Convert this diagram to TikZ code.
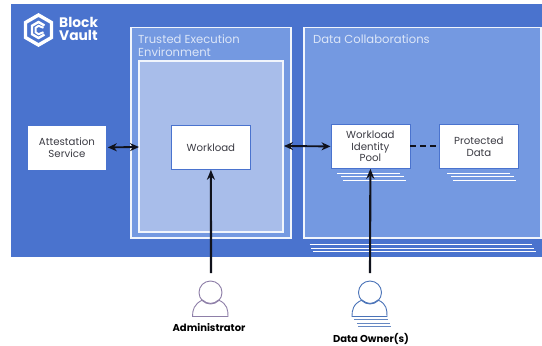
\documentclass[tikz,border=0pt]{standalone}
\usepackage{fontspec}
\setmainfont{Poppins}
\usetikzlibrary{arrows.meta}
\definecolor{bgblue}{HTML}{4A73CE}
\definecolor{midblue}{HTML}{7499E1}
\definecolor{lightblue}{HTML}{A8BDEA}
\definecolor{paleline}{HTML}{DCE6F8}
\definecolor{txt}{HTML}{3C3C44}
\definecolor{linkc}{HTML}{10121C}
\definecolor{adminc}{HTML}{8E7FA8}
\definecolor{ownerc}{HTML}{4A73B8}
\tikzset{
  x=1pt,y=-1pt,
  panel/.style={draw=white!90!midblue,line width=1.3pt,fill=midblue},
  wbox/.style={draw=bgblue,line width=0.8pt,fill=white,text=txt,font=\fontsize{10.2}{11.8}\selectfont,align=center,anchor=north west,inner sep=0pt},
  link/.style={draw=linkc,line width=1.9pt,{Stealth[length=9pt,width=8pt]}-{Stealth[length=9pt,width=8pt]}},
  uplink/.style={draw=linkc,line width=2.1pt,-{Stealth[length=10pt,width=8pt]}},
  stripes/.style={draw=white,line width=1pt},
  paneltitle/.style={text=paleline,font=\fontsize{11.6}{13.8}\selectfont,anchor=north west,inner sep=0pt,align=left},
  usertitle/.style={text=black,font=\bfseries\fontsize{10}{12}\selectfont,inner sep=0pt}
}
\begin{document}
\begin{tikzpicture}
\useasboundingbox (0,0) rectangle (542,346);
\fill[white] (0,0) rectangle (542,346);
\fill[bgblue] (11,4) rectangle (542,257);
% logo
\draw[white,line width=3.4pt,line join=miter] (38.5,15) -- (51.5,22.5) -- (51.5,37.5) -- (38.5,45) -- (25.5,37.5) -- (25.5,22.5) -- cycle;
\draw[white,line width=2.4pt] (44.5,25.5) -- (38.5,22) -- (32,25.8) -- (32,34.2) -- (38.5,38) -- (44.5,34.5);
\draw[white,line width=2pt] (43.5,27.8) -- (38.5,25.8) -- (35.5,27.8) -- (35.5,32.2) -- (38.5,34.2) -- (43.5,32.2);
\node[text=white,font=\bfseries\fontsize{13.8}{12.8}\selectfont,anchor=north west,inner sep=0pt,align=left] (logo) at (59,17) {Block\\Vault};
% panels
\draw[panel] (131,27.5) rectangle (291,238);
\draw[draw=white!90!midblue,line width=1.3pt,fill=lightblue] (139,61) rectangle (283,232);
\draw[panel] (304,27.5) rectangle (541,238);
\node[paneltitle] (teet) at (138,34) {Trusted Execution\\Environment};
\node[paneltitle] (dct) at (313,34) {Data Collaborations};
% boxes
\node[wbox,minimum width=77pt,minimum height=43pt,draw=white] (att) at (28,125.5) {Attestation\\Service};
\node[wbox,minimum width=79pt,minimum height=44pt] (wl) at (171,125) {Workload};
\node[wbox,minimum width=79pt,minimum height=44pt] (wip) at (330.5,124) {Workload\\Identity\\Pool};
\node[wbox,minimum width=79pt,minimum height=44pt] (pd) at (439,124) {Protected\\Data};
% stripes
\draw[stripes] (337,173) -- (400,173) (341,176.5) -- (404,176.5) (343,180) -- (406,180);
\draw[stripes] (447,173) -- (510,173) (451,176.5) -- (514,176.5) (453,180) -- (516,180);
\draw[stripes] (309.5,244.5) -- (532,244.5) (311,248) -- (534,248) (313,251.5) -- (536,251.5);
% people
\coordinate (adm) at (211,273);
\coordinate (own) at (370,273);
\draw[adminc,line width=0.9pt] (210.5,292.5) circle (11.5);
\draw[adminc,line width=0.9pt] (202.5,300) .. controls (194,304) and (192.5,310) .. (192.5,316.5) -- (228,316.5) .. controls (228,310) and (227.5,304) .. (218.5,300) .. controls (214,304.5) and (207,304.5) .. (202.5,300) -- cycle;
\draw[ownerc,line width=0.9pt] (370,292.5) circle (11.5);
\draw[ownerc,line width=0.9pt] (362,300) .. controls (353,304) and (352,310) .. (352,316.5) -- (387,316.5) .. controls (387,310) and (387,304) .. (378,300) .. controls (373,304.5) and (367,304.5) .. (362,300) -- cycle;
\draw[ownerc!85!white,line width=1pt] (354,319.5) -- (388,319.5) (357,323) -- (390,323) (358,326.5) -- (391,326.5);
\node[usertitle] (admt) at (209,327.5) {Administrator};
\node[usertitle] (ownt) at (371,339) {Data Owner(s)};
% links
\draw[link] (att.east) ++(2,0) -- (139,147);
\draw[link] (284,146) -- (wip.west);
\draw[draw=linkc,line width=1.9pt,dash pattern=on 6pt off 4pt] (wip.east) -- (pd.west);
\draw[uplink] (adm) -- (wl.south);
\draw[uplink] (own) -- (wip.south);
\end{tikzpicture}
\end{document}
